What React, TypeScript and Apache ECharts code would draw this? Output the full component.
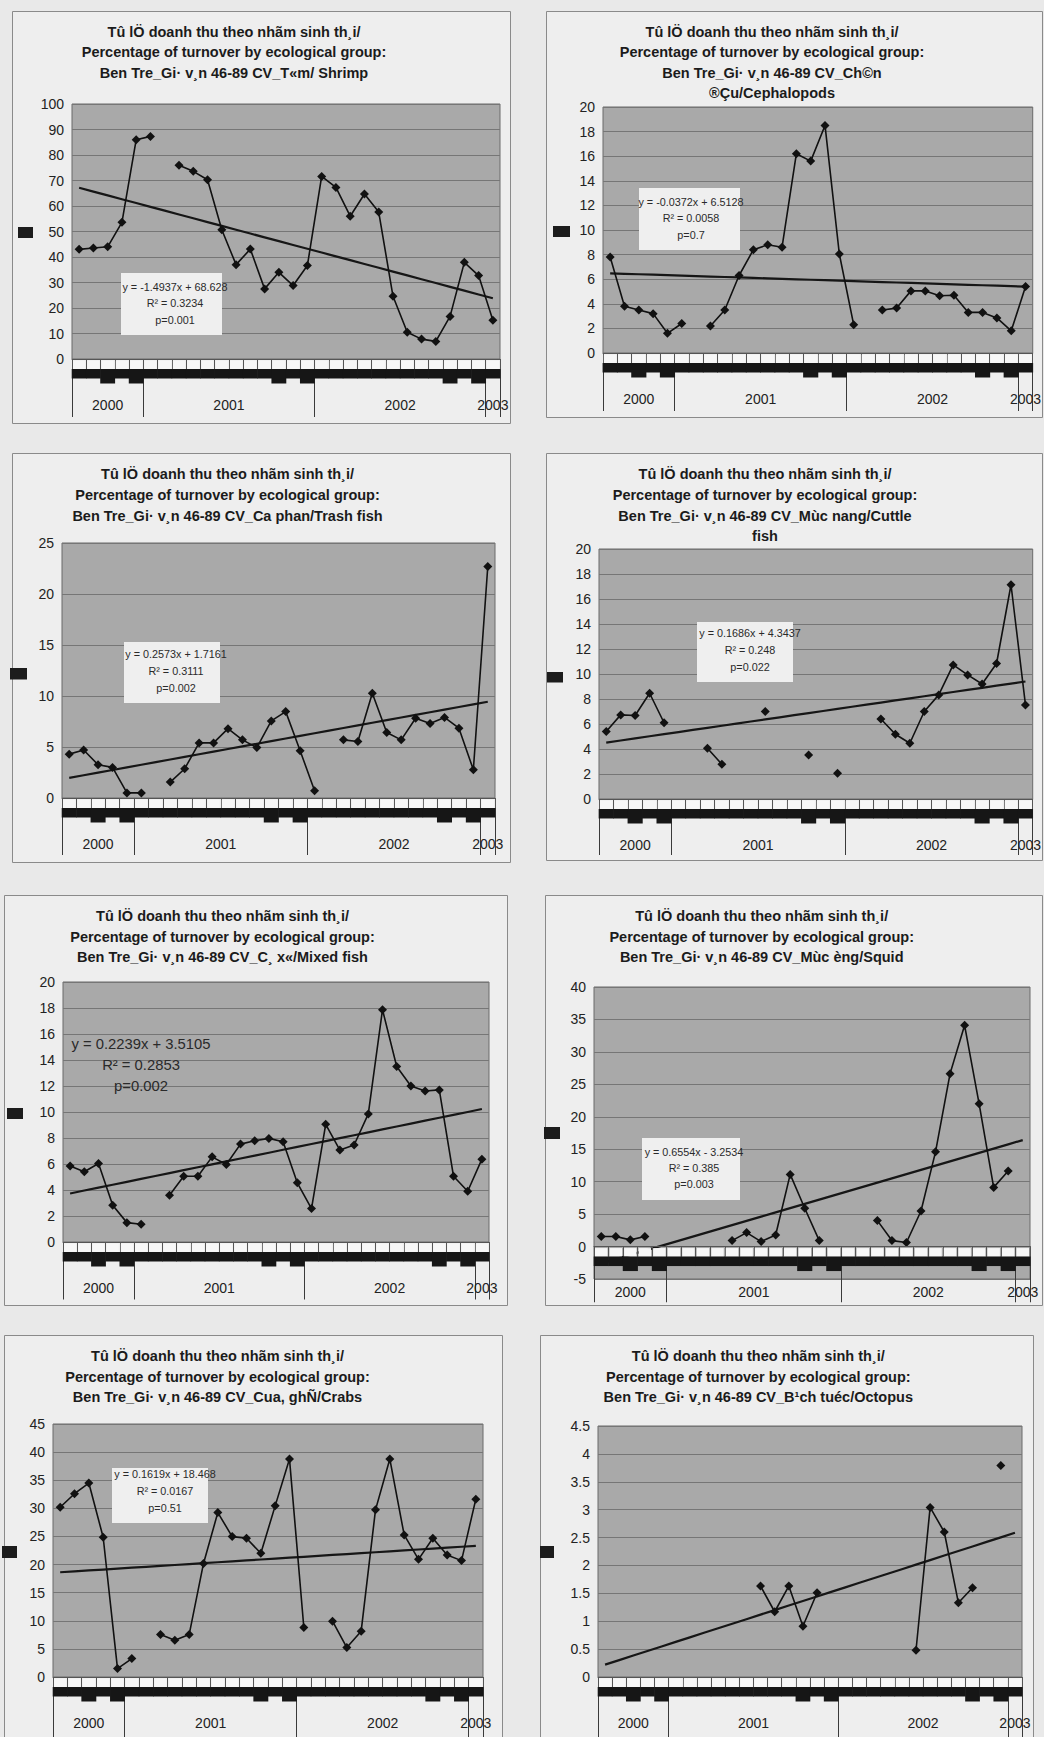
import React, { useEffect, useRef } from "react";
import * as echarts from "echarts";

// ---------- categories (months) ----------
const months = [
  "Aug 2000", "Sep 2000", "Oct 2000", "Nov 2000", "Dec 2000",
  "Jan 2001", "Feb 2001", "Mar 2001", "Apr 2001", "May 2001", "Jun 2001",
  "Jul 2001", "Aug 2001", "Sep 2001", "Oct 2001", "Nov 2001", "Dec 2001",
  "Jan 2002", "Feb 2002", "Mar 2002", "Apr 2002", "May 2002", "Jun 2002",
  "Jul 2002", "Aug 2002", "Sep 2002", "Oct 2002", "Nov 2002", "Dec 2002",
  "Jan 2003",
];
const yearLabels = ["2000", "2001", "2002", "2003"];
const yearStartIdx = [0, 5, 17, 29];

// ---------- titles ----------
const titleLine1 = "Tû lÖ doanh thu theo nhãm sinh th¸i/";
const titleLine2 = "Percentage of turnover by ecological group:";
const groupTitleLines = [
  ["Ben Tre_Gi· v¸n 46-89 CV_T«m/ Shrimp"],
  ["Ben Tre_Gi· v¸n 46-89 CV_Ch©n", "®Çu/Cephalopods"],
  ["Ben Tre_Gi· v¸n 46-89 CV_Ca phan/Trash fish"],
  ["Ben Tre_Gi· v¸n 46-89 CV_Mùc nang/Cuttle", "fish"],
  ["Ben Tre_Gi· v¸n 46-89 CV_C¸ x«/Mixed fish"],
  ["Ben Tre_Gi· v¸n 46-89 CV_Mùc èng/Squid"],
  ["Ben Tre_Gi· v¸n 46-89 CV_Cua, ghÑ/Crabs"],
  ["Ben Tre_Gi· v¸n 46-89 CV_B¹ch tuéc/Octopus"],
];

// ---------- series values (% of turnover) ----------
const shrimp = [43, 43.5, 44, 53.6, 86, 87.3, null, 76, 73.6, 70.3, 50.7, 37, 43.1, 27.5, 34, 28.8, 36.7, 71.6, 67.3, 56, 64.7, 57.6, 24.6, 10.5, 7.8, 6.9, 16.7, 37.9, 32.7, 15.2];
const cephalopods = [7.8, 3.8, 3.5, 3.2, 1.6, 2.4, null, 2.2, 3.5, 6.3, 8.4, 8.8, 8.6, 16.2, 15.6, 18.5, 8.05, 2.3, null, 3.5, 3.65, 5.05, 5.05, 4.65, 4.7, 3.3, 3.3, 2.85, 1.8, 5.4];
const trashFish = [4.3, 4.7, 3.26, 3.0, 0.5, 0.5, null, 1.56, 2.87, 5.4, 5.4, 6.8, 5.7, 4.95, 7.56, 8.47, 4.63, 0.72, null, 5.7, 5.54, 10.27, 6.42, 5.7, 7.82, 7.3, 7.9, 6.84, 2.77, 22.7];
const cuttlefish = [5.4, 6.73, 6.68, 8.46, 6.1, null, null, 4.06, 2.78, null, null, 7.0, null, null, 3.52, null, 2.06, null, null, 6.4, 5.18, 4.46, 7.0, 8.33, 10.73, 9.93, 9.2, 10.84, 17.14, 7.53];
const mixedFish = [5.84, 5.4, 6.04, 2.83, 1.49, 1.36, null, 3.6, 5.06, 5.06, 6.55, 5.96, 7.53, 7.79, 7.97, 7.71, 4.55, 2.57, 9.05, 7.07, 7.46, 9.85, 17.87, 13.5, 12.0, 11.62, 11.7, 5.06, 3.9, 6.37];
const squid = [1.54, 1.54, 1.03, 1.54, null, null, null, null, null, 0.92, 2.15, 0.77, 1.79, 11.12, 5.9, 0.92, null, null, null, 4.0, 0.92, 0.62, 5.48, 14.6, 26.65, 34.1, 22.0, 9.12, 11.63, null];
const crabs = [30.2, 32.6, 34.5, 24.85, 1.49, 3.27, null, 7.55, 6.54, 7.55, 20.2, 29.25, 24.97, 24.67, 22.0, 30.44, 38.76, 8.8, null, 9.93, 5.23, 8.15, 29.73, 38.76, 25.27, 20.93, 24.67, 21.7, 20.7, 31.63];
const octopus = [null, null, null, null, null, null, null, null, null, null, null, 1.63, 1.17, 1.63, 0.91, 1.51, null, null, null, null, null, null, 0.48, 3.04, 2.6, 1.33, 1.6, null, 3.79, null];

const allSeries = [shrimp, cephalopods, trashFish, cuttlefish, mixedFish, squid, crabs, octopus];

// ---------- trend lines (linear, x = 1..30) ----------
const trendSlopes = [-1.4937, -0.0372, 0.2573, 0.1686, 0.2239, 0.6554, 0.1619, 0.0815];
const trendIntercepts = [68.628, 6.5128, 1.7161, 4.3437, 3.5105, -3.2534, 18.468, 0.14];
const trendR2 = ["0.3234", "0.0058", "0.3111", "0.248", "0.2853", "0.385", "0.0167", ""];
const trendP = ["0.001", "0.7", "0.002", "0.022", "0.002", "0.003", "0.51", ""];
const showEquation = [true, true, true, true, true, true, true, false];

// ---------- y axis scales ----------
const yMin = [0, 0, 0, 0, 0, -5, 0, 0];
const yMax = [100, 20, 25, 20, 20, 40, 45, 4.5];
const yInterval = [10, 2, 5, 2, 2, 5, 5, 0.5];

// ---------- layout (pixels) ----------
const LAYOUT = [
  { box: [12, 11, 498, 412], grid: [72, 104, 428, 255], titleX: 234, titleY: 21.4, legend: [18, 227, 15, 11], eqBox: [121, 273, 101, 62], eqX: 175, eqY: 286.7, eqGap: 16.7, eqFont: 10.8, yearTick: 58 },
  { box: [546, 11, 496, 406], grid: [603, 107, 437, 246], titleX: 772, titleY: 21.4, legend: [553, 226, 17, 11], eqBox: [639, 188, 101, 62], eqX: 691, eqY: 201.7, eqGap: 16.7, eqFont: 10.8, yearTick: 58 },
  { box: [12, 453, 498, 409], grid: [62, 543, 433, 255], titleX: 227.5, titleY: 464, legend: [10, 668, 17, 11.5], eqBox: [124, 642, 96, 61], eqX: 176, eqY: 654.3, eqGap: 16.7, eqFont: 10.8, yearTick: 57 },
  { box: [546, 453, 496, 407], grid: [599, 549, 436, 250], titleX: 765, titleY: 464, legend: [547, 672, 16, 10.5], eqBox: [697, 622, 96, 60], eqX: 750, eqY: 633.3, eqGap: 16.7, eqFont: 10.8, yearTick: 56 },
  { box: [4, 895, 503, 410], grid: [63, 982, 426, 260], titleX: 222.5, titleY: 905.7, legend: [7, 1108, 16, 11], eqBox: null, eqX: 141, eqY: 1044, eqGap: 21, eqFont: 14.8, yearTick: 57.5 },
  { box: [545, 895, 497, 410], grid: [594, 987, 436, 292], titleX: 761.7, titleY: 905.7, legend: [544, 1127, 16, 12], eqBox: [642, 1138, 98, 62], eqX: 694, eqY: 1151.7, eqGap: 16.3, eqFont: 10.8, yearTick: 55.7 },
  { box: [4, 1335, 498, 410], grid: [53, 1424, 430, 253], titleX: 217.5, titleY: 1345.7, legend: [2, 1546, 15, 12], eqBox: [112, 1468, 96, 55], eqX: 165, eqY: 1474, eqGap: 16.8, eqFont: 10.8, yearTick: 62 },
  { box: [540, 1335, 493, 410], grid: [598, 1426, 424, 251], titleX: 758.3, titleY: 1345.7, legend: [540, 1546, 14, 12], eqBox: null, eqX: 0, eqY: 0, eqGap: 0, eqFont: 10.8, yearTick: 62 },
];

const loweredLabelSlots = [2, 4, 14, 16, 26, 28];
const FONT = '"Liberation Sans", Arial, sans-serif';

function buildOption() {
  const grids: any[] = [];
  const xAxes: any[] = [];
  const yAxes: any[] = [];
  const series: any[] = [];
  const graphics: any[] = [];

  const yearLabelAt = new Map<number, { text: string; shift: boolean }>();
  yearStartIdx.forEach((s, g) => {
    const end = g + 1 < yearStartIdx.length ? yearStartIdx[g + 1] : months.length;
    const len = end - s;
    yearLabelAt.set(s + Math.floor((len - 1) / 2), { text: yearLabels[g], shift: len % 2 === 0 });
  });

  allSeries.forEach((data, k) => {
    const p = LAYOUT[k];
    const W = p.grid[2] / months.length;

    graphics.push({
      type: "rect", z: -10, silent: true,
      shape: { x: p.box[0] + 0.5, y: p.box[1] + 0.5, width: p.box[2], height: p.box[3] },
      style: { fill: "#eeeeee", stroke: "#8a8a8a", lineWidth: 1 },
    });
    graphics.push({
      type: "text", z: 10, silent: true, x: p.titleX, y: p.titleY,
      style: {
        text: [titleLine1, titleLine2, ...groupTitleLines[k]].join("\n"),
        fill: "#1b1b1b", fontSize: 14.5, fontWeight: "bold", fontFamily: FONT,
        align: "center", verticalAlign: "top", lineHeight: 20.6,
      },
    });
    graphics.push({
      type: "rect", z: 10, silent: true,
      shape: { x: p.legend[0], y: p.legend[1], width: p.legend[2], height: p.legend[3] },
      style: { fill: "#1c1c1c" },
    });
    if (showEquation[k]) {
      if (p.eqBox) {
        graphics.push({
          type: "rect", z: 10, silent: true,
          shape: { x: p.eqBox[0], y: p.eqBox[1], width: p.eqBox[2], height: p.eqBox[3] },
          style: { fill: "#efefef" },
        });
      }
      const b = trendIntercepts[k];
      const lines = [
        `y = ${trendSlopes[k]}x ${b < 0 ? "-" : "+"} ${Math.abs(b)}`,
        `R² = ${trendR2[k]}`,
        `p=${trendP[k]}`,
      ];
      lines.forEach((t, j) => {
        graphics.push({
          type: "text", z: 11, silent: true, x: p.eqX, y: p.eqY + j * p.eqGap,
          style: { text: t, fill: "#2a2a2a", fontSize: p.eqFont, fontFamily: FONT, align: "center", verticalAlign: "middle" },
        });
      });
    }

    grids.push({
      left: p.grid[0], top: p.grid[1], width: p.grid[2], height: p.grid[3],
      show: true, backgroundColor: "#a9a9a9", borderColor: "#6a6a6a", borderWidth: 1,
    });

    yAxes.push({
      type: "value", gridIndex: k, min: yMin[k], max: yMax[k], interval: yInterval[k],
      axisLine: { show: false, onZero: false }, axisTick: { show: false },
      axisLabel: { color: "#222", fontSize: 14, fontFamily: FONT, margin: 8 },
      splitLine: { show: true, lineStyle: { color: "#767676", width: 1 } },
    });

    // the category axis sits on the value 0 of the y axis
    const zeroOffset = yMin[k] < 0 ? -p.grid[3] * (0 - yMin[k]) / (yMax[k] - yMin[k]) : 0;

    // month axis (labels appear as white cells over black blocks)
    xAxes.push({
      type: "category", gridIndex: k, data: months, position: "bottom", z: 5, offset: zeroOffset,
      axisLine: { show: true, onZero: false, lineStyle: { color: "#555", width: 1 } },
      axisTick: { show: true, interval: 0, length: 10, lineStyle: { color: "#555" } },
      axisLabel: {
        interval: 0, margin: 1.5, fontSize: 6, color: "transparent",
        formatter: (_v: string, i: number) => (loweredLabelSlots.includes(i) ? "{w| }\n{l| }" : "{w| }\n{k| }"),
        rich: {
          w: { width: W - 2, height: 8.5, backgroundColor: "#f7f7f7", fontSize: 6, color: "transparent" },
          k: { width: W + 0.6, height: 9.5, backgroundColor: "#161616", fontSize: 6, color: "transparent" },
          l: { width: W + 0.6, height: 14.5, backgroundColor: "#161616", fontSize: 6, color: "transparent" },
        },
      },
      splitLine: { show: false },
    });

    // year axis
    xAxes.push({
      type: "category", gridIndex: k, data: months, position: "bottom", offset: zeroOffset,
      axisLine: { show: false, onZero: false },
      axisTick: { show: true, interval: (i: number) => yearStartIdx.includes(i), length: p.yearTick, lineStyle: { color: "#3a3a3a", width: 1 } },
      axisLabel: {
        interval: (i: number) => yearLabelAt.has(i),
        margin: 38.5, fontSize: 14, fontFamily: FONT, color: "#222",
        formatter: (_v: string, i: number) => {
          const e = yearLabelAt.get(i);
          if (!e) return "";
          return e.shift ? `{s|${e.text}}` : e.text;
        },
        rich: { s: { padding: [0, 0, 0, W], fontSize: 14, fontFamily: FONT, color: "#222" } },
      },
      splitLine: { show: false },
    });

    series.push({
      type: "line", xAxisIndex: 2 * k, yAxisIndex: k, data, connectNulls: false,
      symbol: "diamond", symbolSize: 9, showSymbol: true, z: 3, silent: true,
      lineStyle: { color: "#111", width: 1.6 }, itemStyle: { color: "#111" },
    });
    series.push({
      type: "line", xAxisIndex: 2 * k, yAxisIndex: k, z: 2, silent: true,
      data: months.map((_m, i) => +(trendSlopes[k] * (i + 1) + trendIntercepts[k]).toFixed(4)),
      symbol: "none", lineStyle: { color: "#161616", width: 2.2 },
    });
  });

  return {
    animation: false,
    backgroundColor: "#e9e9e9",
    grid: grids,
    xAxis: xAxes,
    yAxis: yAxes,
    series,
    graphic: graphics,
  };
}

export default function App() {
  const ref = useRef<HTMLDivElement>(null);
  useEffect(() => {
    if (!ref.current) return;
    const chart = echarts.init(ref.current, undefined, { renderer: "svg", width: 1044, height: 1737 });
    chart.setOption(buildOption() as any);
    return () => chart.dispose();
  }, []);
  return <div ref={ref} style={{ position: "absolute", left: 0, top: 0, width: 1044, height: 1737 }} />;
}
